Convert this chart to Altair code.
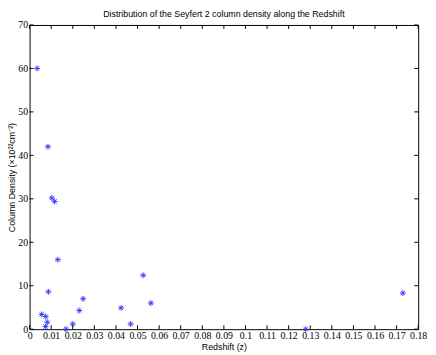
import altair as alt
import pandas as pd

# Data
redshift = [0.0035, 0.0085, 0.0103, 0.0116, 0.0131, 0.0087, 0.0056, 0.0075,
            0.0082, 0.0074, 0.0169, 0.0200, 0.0230, 0.0248, 0.0424, 0.0468,
            0.0526, 0.0562, 0.1279, 0.1729]
density = [60.0, 42.0, 30.2, 29.4, 16.0, 8.6, 3.4, 2.9,
           1.6, 0.6, 0.0, 1.2, 4.3, 7.0, 4.9, 1.2,
           12.4, 6.0, 0.0, 8.3]
x_ticks = [0, 0.01, 0.02, 0.03, 0.04, 0.05, 0.06, 0.07, 0.08, 0.09, 0.1,
           0.11, 0.12, 0.13, 0.14, 0.15, 0.16, 0.17, 0.18]
y_ticks = [0, 10, 20, 30, 40, 50, 60, 70]

W, H = 396, 310
TICK = 4
SERIF = "Liberation Serif"

pts = pd.DataFrame({"z": redshift, "nh": density})
xt = pd.DataFrame({"z": x_ticks})
yt = pd.DataFrame({"nh": y_ticks})

xscale = alt.Scale(domain=[0, 0.18], nice=False)
yscale = alt.Scale(domain=[0, 70], nice=False)

star = "M-1,0L1,0M0,-1L0,1M-0.7,-0.7L0.7,0.7M-0.7,0.7L0.7,-0.7"

axis_common = dict(ticks=False, domain=False, grid=False,
                   labelFont=SERIF, labelFontSize=10,
                   labelColor="black", labelPadding=2,
                   titleFont="Liberation Sans", titleFontSize=9,
                   titleFontWeight="normal", titleColor="black",
                   labelFlush=False)

x_axis = alt.Axis(values=x_ticks, format="~g", title="Redshift (z)",
                  titlePadding=2, labelOverlap=False, **axis_common)
y_axis = alt.Axis(values=y_ticks, title="Column Density (×10²²cm⁻²)",
                  titlePadding=1, **axis_common)

points = alt.Chart(pts).mark_point(
    shape=star, filled=False, color="#2a2aff", size=36, strokeWidth=1, opacity=0.9
).encode(
    x=alt.X("z:Q", scale=xscale, axis=x_axis),
    y=alt.Y("nh:Q", scale=yscale, axis=y_axis),
)

xb = alt.Chart(xt).mark_rule(color="black", strokeWidth=1).encode(
    x=alt.X("z:Q", scale=xscale, axis=x_axis), y=alt.value(H), y2=alt.value(H - TICK))
xtop = alt.Chart(xt).mark_rule(color="black", strokeWidth=1).encode(
    x=alt.X("z:Q", scale=xscale, axis=x_axis), y=alt.value(0), y2=alt.value(TICK))
yl = alt.Chart(yt).mark_rule(color="black", strokeWidth=1).encode(
    y=alt.Y("nh:Q", scale=yscale, axis=y_axis), x=alt.value(0), x2=alt.value(TICK))
yr = alt.Chart(yt).mark_rule(color="black", strokeWidth=1).encode(
    y=alt.Y("nh:Q", scale=yscale, axis=y_axis), x=alt.value(W), x2=alt.value(W - TICK))

chart = alt.layer(points, xb, xtop, yl, yr).properties(
    width=W, height=H,
    title=alt.Title("Distribution of the Seyfert 2 column density along the Redshift",
                    font="Liberation Sans", fontSize=9, fontWeight="normal",
                    color="black", anchor="middle", offset=1),
    autosize=alt.AutoSizeParams(type="none"),
    padding={"left": 22, "top": 14, "right": 10, "bottom": 23},
).configure_view(stroke="black", strokeWidth=1)

chart.save("out.html", embed_options={"renderer": "svg", "actions": False})
